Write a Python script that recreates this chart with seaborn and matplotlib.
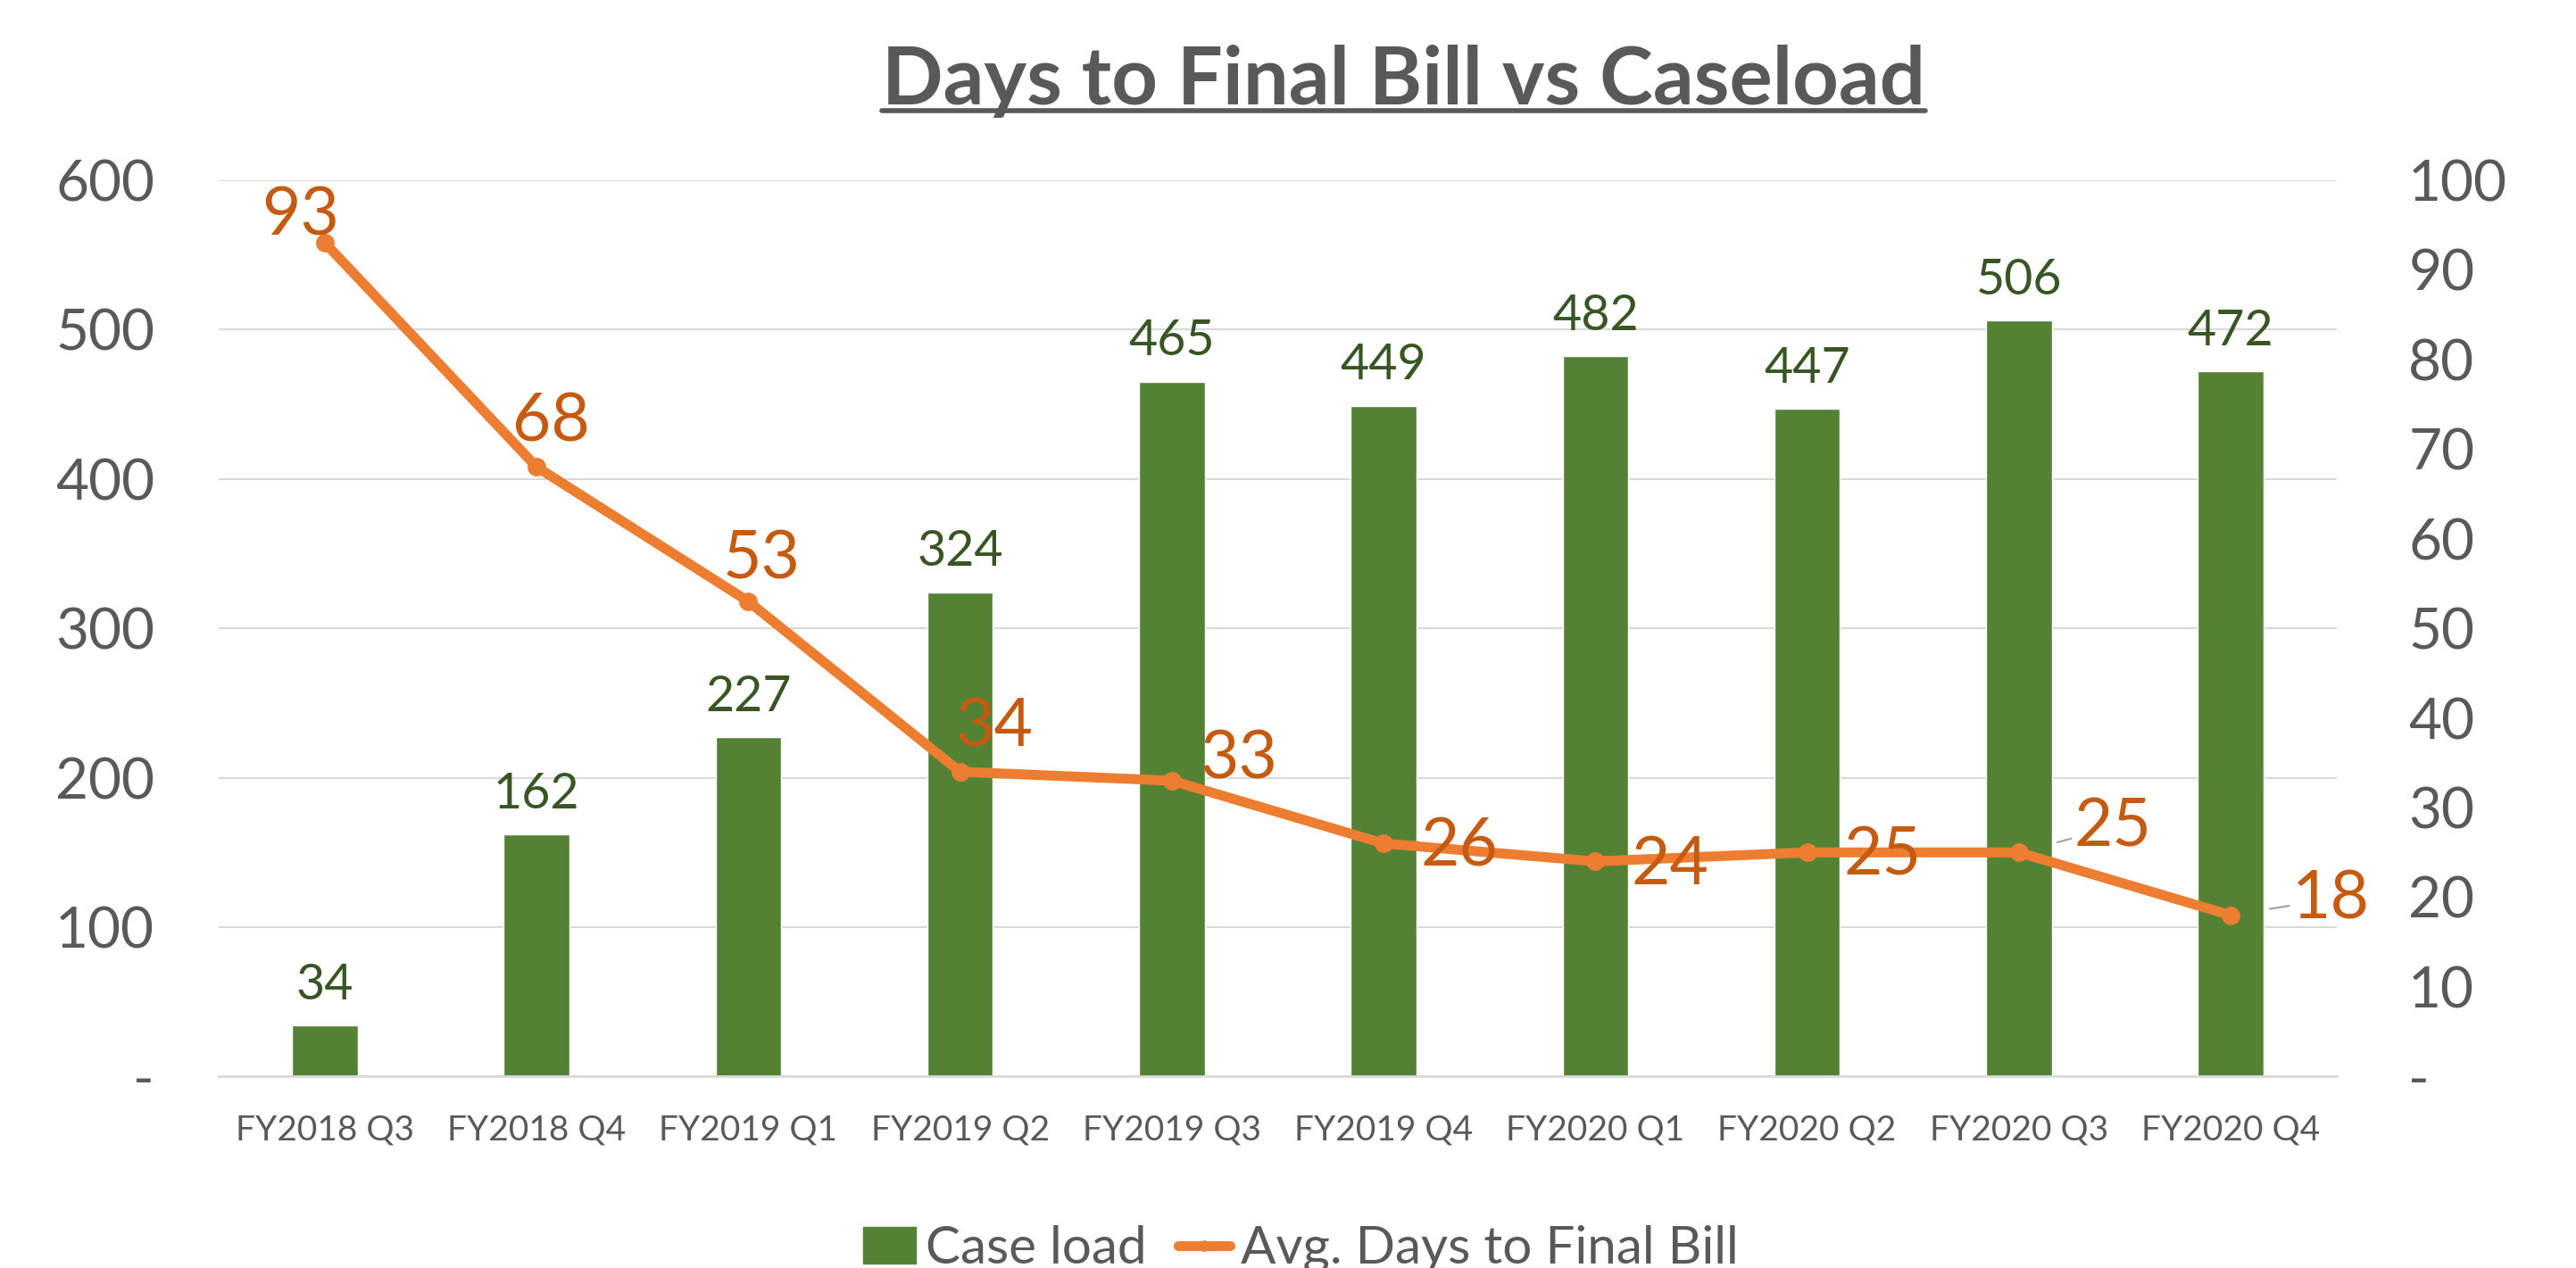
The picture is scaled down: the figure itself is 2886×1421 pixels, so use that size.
import matplotlib
matplotlib.use("Agg")
import numpy as np
import pandas as pd
import matplotlib.pyplot as plt
import seaborn as sns
from matplotlib.lines import Line2D
from matplotlib.patches import Patch

# data
quarters = ["FY2018 Q3", "FY2018 Q4", "FY2019 Q1", "FY2019 Q2", "FY2019 Q3",
            "FY2019 Q4", "FY2020 Q1", "FY2020 Q2", "FY2020 Q3", "FY2020 Q4"]
caseload = [34, 162, 227, 324, 465, 449, 482, 447, 506, 472]
avg_days = [93, 68, 53, 34, 33, 26, 24, 25, 25, 18]

# label offsets for the line labels (points), styling only
line_lbl_offsets = [(-20, 22), (12, 36), (11, 34), (28, 36), (54, 17),
                    (61, -3), (60, -3), (61, -3), (76, 20), (81, 13)]
leader = [False] * 8 + [True, True]

GREEN = "#548235"
DKGREEN = "#375623"
ORANGE = "#ED7D31"
DKORANGE = "#C55A11"
GREY = "#595959"
GRID = "#D9D9D9"

sns.set_theme(style="white")
plt.rcParams["font.family"] = ["Lato", "DejaVu Sans"]

df = pd.DataFrame({"quarter": quarters, "caseload": caseload, "days": avg_days})

fig = plt.figure(figsize=(28.86, 14.21), dpi=100)
ax = fig.add_axes([0.085, 0.151, 0.822, 0.707])

sns.barplot(data=df, x="quarter", y="caseload", color=GREEN, width=0.31,
            saturation=1, ax=ax, zorder=2)
ax.set_ylim(0, 600)
ax.set_yticks(range(0, 601, 100))
ax.set_yticklabels(["-"] + [str(v) for v in range(100, 601, 100)])
ax.yaxis.grid(True, color=GRID, lw=1.5, zorder=0)
ax.set_axisbelow(True)
ax.set_xlabel("")
ax.set_ylabel("")
for s in ["top", "right", "left"]:
    ax.spines[s].set_visible(False)
ax.spines["bottom"].set_color(GRID)
ax.spines["bottom"].set_linewidth(2)
ax.tick_params(axis="y", labelsize=46, labelcolor=GREY, length=0, pad=52)
ax.tick_params(axis="x", labelsize=28, labelcolor=GREY, length=0, pad=30)

for i, v in enumerate(caseload):
    ax.annotate(str(v), (i, v), xytext=(0, 14), textcoords="offset points",
                ha="center", va="bottom", fontsize=40, color=DKGREEN)

ax2 = ax.twinx()
sns.pointplot(data=df, x="quarter", y="days", color=ORANGE, markers="o",
              linestyles="-", markersize=9, linewidth=8, ax=ax2, zorder=4)
ax2.set_ylim(0, 100)
ax2.set_yticks(range(0, 101, 10))
ax2.set_yticklabels(["-"] + [str(v) for v in range(10, 101, 10)])
ax2.set_ylabel("")
for s in ["top", "right", "left", "bottom"]:
    ax2.spines[s].set_visible(False)
ax2.tick_params(axis="y", labelsize=46, labelcolor=GREY, length=0, pad=58)

for i, v in enumerate(avg_days):
    dx, dy = line_lbl_offsets[i]
    kw = {}
    if leader[i]:
        kw["arrowprops"] = dict(arrowstyle="-", color="#A6A6A6", lw=1.6,
                                shrinkA=0, shrinkB=32)
    ax2.annotate(str(v), (i, v), xytext=(dx, dy), textcoords="offset points",
                 ha="center", va="center", fontsize=54, color=DKORANGE, zorder=5, **kw)

title = fig.text(0.545, 0.936, "Days to Final Bill vs Caseload", ha="center", va="center",
                 fontsize=65, fontweight="bold", color=GREY)
fig.canvas.draw()
bb = title.get_window_extent(fig.canvas.get_renderer())
W, H = fig.bbox.width, fig.bbox.height
uy = (bb.y0 + 8) / H
fig.add_artist(Line2D([bb.x0 / W, bb.x1 / W], [uy, uy], color=GREY, lw=4))

handles = [Patch(facecolor=GREEN, edgecolor=GREEN),
           Line2D([0], [0], color=ORANGE, lw=8, marker="o", markersize=8)]
fig.legend(handles, ["Case load", "Avg. Days to Final Bill"], loc="center",
           bbox_to_anchor=(0.505, 0.015), ncol=2, frameon=False, fontsize=42,
           labelcolor=GREY, handlelength=1.0, handletextpad=0.2, columnspacing=0.6)

fig.savefig("out.png", dpi=100)
